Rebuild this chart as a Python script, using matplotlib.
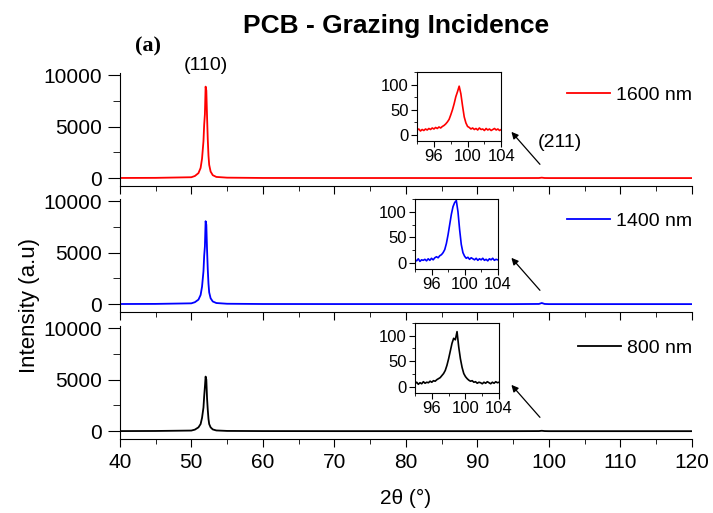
import matplotlib
matplotlib.use('Agg')
import matplotlib.pyplot as plt
from matplotlib.ticker import MultipleLocator

plt.rcParams['font.family'] = ['Liberation Sans', 'DejaVu Sans']

# balayage principal 2theta
x_main = [40, 45, 50, 50.5, 51.0, 51.3, 51.5, 51.7, 51.8, 51.9, 52.0, 52.1, 52.2,
          52.3, 52.4, 52.5, 52.7, 53.0, 53.5, 55, 60, 70, 80, 90, 95, 98.6,
          99, 99.4, 100, 110, 120]
y_1600 = [30, 40, 100, 220, 500, 1000, 1900, 3600, 5200, 6200, 8880, 8500, 6000,
          3800, 2200, 1300, 650, 300, 130, 60, 30, 25, 25, 20, 20, 25,
          60, 25, 20, 20, 20]
y_1400 = [25, 35, 90, 200, 450, 900, 1700, 3200, 4700, 5600, 8050, 7700, 5300,
          3400, 2000, 1150, 580, 270, 120, 50, 25, 20, 20, 15, 15, 30,
          122, 30, 15, 15, 15]
y_800 = [20, 30, 70, 160, 380, 700, 1300, 2300, 3400, 4300, 5300, 5000, 3200,
         2100, 1200, 700, 380, 180, 80, 35, 20, 15, 15, 12, 12, 20,
         50, 20, 12, 12, 12]

# zoom sur le pic (211)
x_ins = [94.0, 94.2, 94.4, 94.6, 94.8, 95.0, 95.2, 95.4, 95.6, 95.8,
         96.0, 96.2, 96.4, 96.6, 96.8, 97.0, 97.2, 97.4, 97.6, 97.8,
         98.0, 98.2, 98.4, 98.6, 98.8, 99.0, 99.2, 99.4, 99.6, 99.8,
         100.0, 100.2, 100.4, 100.6, 100.8, 101.0, 101.2, 101.4, 101.6, 101.8,
         102.0, 102.2, 102.4, 102.6, 102.8, 103.0, 103.2, 103.4, 103.6, 103.8,
         104.0]
ins_1600 = [10, 12, 8, 11, 9, 12, 10, 13, 11, 14,
            12, 15, 13, 16, 14, 17, 19, 22, 26, 31,
            40, 50, 62, 76, 86, 97, 82, 58, 36, 24,
            17, 15, 12, 14, 11, 13, 10, 14, 11, 12,
            9, 13, 10, 12, 9, 11, 13, 10, 12, 9,
            11]
ins_1400 = [6, 4, 8, 3, 6, 5, 7, 4, 8, 5,
            9, 6, 10, 12, 10, 14, 16, 20, 26, 38,
            55, 75, 95, 110, 118, 122, 100, 65, 36, 20,
            13, 9, 11, 7, 10, 8, 6, 9, 5, 8,
            6, 9, 5, 7, 4, 8, 6, 9, 5, 7,
            6]
ins_800 = [6, 9, 5, 8, 6, 10, 7, 9, 8, 11,
           9, 12, 11, 14, 16, 18, 22, 26, 32, 42,
           55, 70, 85, 95, 92, 108, 78, 55, 38, 26,
           20, 16, 13, 11, 12, 9, 10, 7, 9, 8,
           6, 9, 7, 10, 8, 6, 9, 7, 10, 8,
           9]

series = [(y_1600, ins_1600, 'red', '1600 nm'),
          (y_1400, ins_1400, 'blue', '1400 nm'),
          (y_800, ins_800, 'black', '800 nm')]

fig = plt.figure(figsize=(7.13, 5.13), dpi=100)

bottoms = [0.6374, 0.3918, 0.1442]
ins_pos = [[0.585, 0.725, 0.118, 0.1345],
           [0.582, 0.4756, 0.116, 0.1365],
           [0.582, 0.234, 0.118, 0.1365]]

for i, (ym, yi, c, lab) in enumerate(series):
    ax = fig.add_axes([0.168, bottoms[i], 0.8025, 0.2203])
    ax.plot(x_main, ym, color=c, lw=1.3, label=lab)
    ax.set_xlim(40, 120)
    ax.set_ylim(-750, 10200)
    ax.spines['top'].set_visible(False)
    ax.spines['right'].set_visible(False)
    ax.yaxis.set_major_locator(MultipleLocator(5000))
    ax.yaxis.set_minor_locator(MultipleLocator(2500))
    ax.xaxis.set_major_locator(MultipleLocator(10))
    ax.xaxis.set_minor_locator(MultipleLocator(5))
    ax.tick_params(axis='y', which='major', length=9, labelsize=15, pad=4)
    ax.tick_params(axis='y', which='minor', length=5)
    ax.tick_params(axis='x', which='major', length=6, labelsize=15, pad=4)
    ax.tick_params(axis='x', which='minor', length=3.5)
    if i < 2:
        ax.tick_params(axis='x', labelbottom=False)
    ax.legend(loc='upper right', frameon=False, fontsize=14, handlelength=2.2,
              handletextpad=0.3, bbox_to_anchor=(1.03, 1.04))
    ax.annotate('', xy=(94.5, 4700), xytext=(99, 1150),
                arrowprops=dict(arrowstyle='-|>', color='black', lw=0.9,
                                mutation_scale=10))
    if i == 0:
        ax.text(101.5, 3450, '(211)', fontsize=14, ha='center', va='center')
        ax.text(52.1, 10900, '(110)', fontsize=14, ha='center', va='center',
                clip_on=False)
    if i == 2:
        ax.set_xlabel('2θ (°)', fontsize=15, labelpad=12)

    axi = fig.add_axes(ins_pos[i])
    axi.plot(x_ins, yi, color=c, lw=1.2)
    axi.set_xlim(94, 104)
    axi.set_ylim(-12, 125)
    axi.xaxis.set_minor_locator(MultipleLocator(2))
    axi.set_xticks([96, 100, 104])
    axi.yaxis.set_major_locator(MultipleLocator(50))
    axi.yaxis.set_minor_locator(MultipleLocator(25))
    axi.tick_params(which='major', length=4, labelsize=12, pad=2)
    axi.tick_params(which='minor', length=2.5)
    for s in axi.spines.values():
        s.set_linewidth(0.8)

fig.text(0.555, 0.95, 'PCB - Grazing Incidence', fontsize=19, fontweight='bold',
         ha='center', va='center')
fig.text(0.208, 0.91, '(a)', fontsize=16, fontweight='bold', family='Liberation Serif',
         ha='center', va='center')
fig.text(0.042, 0.405, 'Intensity (a.u)', fontsize=16, rotation=90,
         ha='center', va='center')

fig.savefig('out.png', dpi=100)
